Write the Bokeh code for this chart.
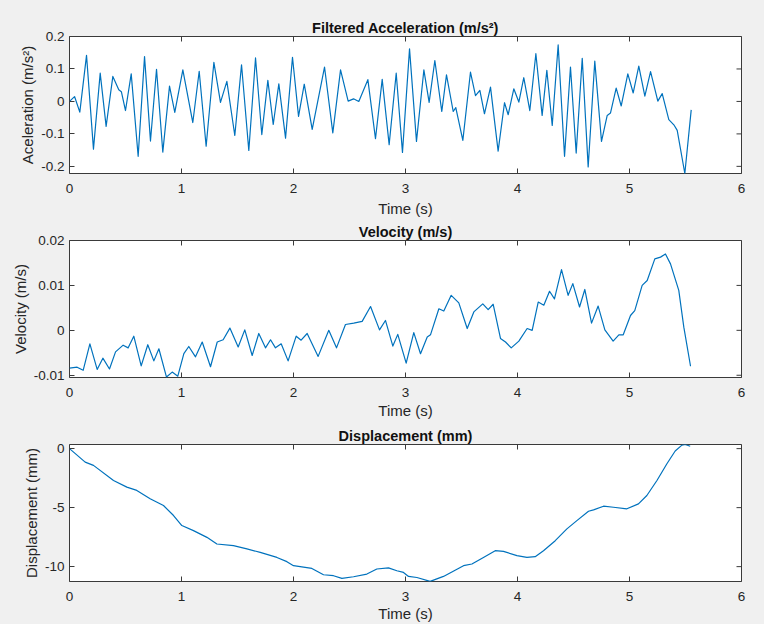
import math
from bokeh.plotting import figure
from bokeh.models import Range1d, FixedTicker
from bokeh.layouts import column
from bokeh.embed import file_html
from bokeh.resources import INLINE

# ---------------- data ----------------
acc_t = [0.0, 0.045, 0.092, 0.152, 0.214, 0.274, 0.327, 0.387, 0.44, 0.463, 0.5, 0.551, 0.613, 0.67,
         0.723, 0.777, 0.833, 0.893, 0.94, 1.012, 1.101, 1.158, 1.22, 1.289, 1.348, 1.405, 1.476, 1.536,
         1.601, 1.661, 1.717, 1.771, 1.819, 1.869, 1.929, 1.991, 2.045, 2.096, 2.167, 2.277, 2.351, 2.42,
         2.488, 2.536, 2.583, 2.664, 2.732, 2.792, 2.854, 2.917, 2.973, 3.036, 3.098, 3.164, 3.211, 3.262,
         3.324, 3.366, 3.426, 3.449, 3.512, 3.58, 3.625, 3.664, 3.705, 3.759, 3.827, 3.884, 3.917, 3.967,
         4.012, 4.056, 4.11, 4.164, 4.22, 4.262, 4.31, 4.363, 4.42, 4.473, 4.524, 4.578, 4.631, 4.69,
         4.75, 4.801, 4.83, 4.881, 4.926, 4.985, 5.033, 5.083, 5.137, 5.188, 5.253, 5.292, 5.351, 5.396,
         5.426, 5.494, 5.551]
acc = [0.0, 0.015, -0.033, 0.142, -0.147, 0.087, -0.077, 0.077, 0.036, 0.03, -0.028, 0.085, -0.169, 0.138,
       -0.122, 0.099, -0.156, 0.047, -0.034, 0.097, -0.065, 0.093, -0.138, 0.12, -0.003, 0.062, -0.105, 0.113,
       -0.151, 0.134, -0.102, 0.065, -0.071, 0.054, -0.113, 0.136, -0.046, 0.053, -0.086, 0.106, -0.097, 0.097,
       0.001, 0.008, 0.0, 0.067, -0.115, 0.068, -0.133, 0.087, -0.157, 0.162, -0.123, 0.097, -0.003, 0.126,
       -0.031, 0.082, -0.031, -0.019, -0.12, 0.09, 0.018, 0.034, -0.038, 0.044, -0.153, -0.004, -0.041, 0.039,
       -0.002, 0.073, -0.028, 0.147, -0.043, 0.096, -0.074, 0.174, -0.169, 0.106, -0.159, 0.133, -0.202, 0.124,
       -0.123, -0.043, -0.036, 0.041, -0.014, 0.085, 0.026, 0.109, 0.016, 0.092, 0.001, 0.024, -0.056, -0.072,
       -0.089, -0.222, -0.026]

vel_t = [0.0, 0.068, 0.122, 0.182, 0.247, 0.298, 0.357, 0.411, 0.479, 0.524, 0.574, 0.64, 0.699, 0.753,
         0.798, 0.866, 0.917, 0.967, 1.021, 1.065, 1.125, 1.185, 1.259, 1.319, 1.372, 1.432, 1.506, 1.565,
         1.631, 1.69, 1.75, 1.795, 1.839, 1.89, 1.952, 2.024, 2.068, 2.122, 2.22, 2.315, 2.384, 2.464,
         2.538, 2.613, 2.688, 2.768, 2.821, 2.887, 2.931, 3.006, 3.074, 3.134, 3.194, 3.223, 3.298, 3.342,
         3.408, 3.476, 3.551, 3.61, 3.69, 3.738, 3.783, 3.848, 3.893, 3.944, 4.012, 4.086, 4.131, 4.185,
         4.235, 4.286, 4.33, 4.393, 4.452, 4.494, 4.554, 4.601, 4.661, 4.72, 4.78, 4.854, 4.905, 4.944,
         5.009, 5.047, 5.113, 5.158, 5.226, 5.277, 5.321, 5.366, 5.44, 5.485, 5.545]
vel = [-0.0084, -0.0082, -0.0089, -0.003, -0.0087, -0.0062, -0.0086, -0.0048, -0.0033, -0.0039, -0.0013,
       -0.0079, -0.0032, -0.0068, -0.0041, -0.0104, -0.0093, -0.0102, -0.0052, -0.0036, -0.0059, -0.0026,
       -0.0081, -0.0026, -0.0021, 0.0005, -0.0037, 0.0001, -0.0056, -0.0007, -0.0039, -0.0021, -0.0039,
       -0.003, -0.0068, -0.0013, -0.0022, -0.0007, -0.0058, 0.0, -0.0039, 0.0013, 0.0016, 0.002, 0.0053,
       0.0001, 0.0022, -0.0035, -0.0009, -0.0073, -0.0005, -0.0052, -0.0015, -0.001, 0.0048, 0.0043, 0.0078,
       0.0061, 0.0004, 0.0041, 0.0059, 0.0046, 0.0058, -0.0018, -0.0026, -0.0039, -0.0024, 0.0004, 0.0,
       0.0063, 0.0056, 0.0087, 0.007, 0.0135, 0.0078, 0.0104, 0.0052, 0.0091, 0.0016, 0.0054, 0.0001,
       -0.0024, -0.001, -0.001, 0.0033, 0.0044, 0.01, 0.0111, 0.0159, 0.0163, 0.017, 0.0148, 0.0089,
       0.0007, -0.008]

disp_t = [0.0, 0.14, 0.214, 0.393, 0.512, 0.601, 0.72, 0.839, 0.929, 1.003, 1.107, 1.227, 1.316, 1.464,
          1.584, 1.703, 1.852, 1.941, 2.0, 2.164, 2.268, 2.357, 2.432, 2.536, 2.655, 2.744, 2.848, 2.923,
          2.982, 3.027, 3.102, 3.22, 3.339, 3.518, 3.593, 3.696, 3.801, 3.875, 3.995, 4.084, 4.158, 4.232,
          4.337, 4.441, 4.53, 4.634, 4.679, 4.768, 4.857, 4.977, 5.08, 5.155, 5.245, 5.334, 5.408, 5.468,
          5.497, 5.542]
disp = [0.0, -1.14, -1.42, -2.7, -3.26, -3.54, -4.25, -4.82, -5.67, -6.52, -6.95, -7.52, -8.08, -8.22,
        -8.5, -8.79, -9.22, -9.58, -9.92, -10.15, -10.69, -10.77, -11.0, -10.86, -10.63, -10.2, -10.1, -10.35,
        -10.49, -10.83, -10.92, -11.25, -10.83, -9.92, -9.78, -9.22, -8.65, -8.71, -9.07, -9.22, -9.16, -8.65,
        -7.8, -6.8, -6.1, -5.31, -5.19, -4.88, -4.97, -5.1, -4.68, -3.97, -2.7, -1.28, -0.2, 0.3,
        0.35, 0.2]

x_ticks = [0, 1, 2, 3, 4, 5, 6]
acc_ticks = [-0.2, -0.1, 0, 0.1, 0.2]
acc_labels = ["-0.2", "-0.1", "0", "0.1", "0.2"]
vel_ticks = [-0.01, 0, 0.01, 0.02]
vel_labels = ["-0.01", "0", "0.01", "0.02"]
disp_ticks = [-10, -5, 0]
disp_labels = ["-10", "-5", "0"]

FONT = "Liberation Sans"
TXT = "#262626"
AX = "#3a3a3a"
LINE = "#0072BD"
BG = "#f0f0f0"
X_MAX = 6


def make(title, ylabel, t, y, yr, yt, ylab, height, top, bottom, xlab_standoff):
    p = figure(width=764, height=height, output_backend="svg", toolbar_location=None,
               x_range=Range1d(0, X_MAX), y_range=Range1d(*yr),
               min_border_left=69, min_border_right=23, min_border_top=top, min_border_bottom=bottom,
               background_fill_color="white", border_fill_color=BG,
               outline_line_color=AX, outline_line_width=1)
    p.title.text = title
    p.title.align = "center"
    p.title.text_font = FONT
    p.title.text_font_size = "14.5px"
    p.title.text_font_style = "bold"
    p.title.text_color = "#111111"
    p.title.standoff = 2
    p.title.offset = 0
    p.grid.visible = False

    p.line(t, y, line_color=LINE, line_width=1.2, line_join="round")

    xa = p.xaxis[0]
    xa.ticker = FixedTicker(ticks=x_ticks)
    xa.axis_label = "Time (s)"
    ya = p.yaxis[0]
    ya.ticker = FixedTicker(ticks=yt)
    ya.major_label_overrides = {float(v): s for v, s in zip(yt, ylab)}
    ya.axis_label = ylabel
    for ax in (xa, ya):
        ax.axis_line_color = None
        ax.major_tick_in = 5
        ax.major_tick_out = 0
        ax.major_tick_line_color = AX
        ax.minor_tick_line_color = None
        ax.major_label_text_font = FONT
        ax.major_label_text_font_size = "13.5px"
        ax.major_label_text_color = TXT
        ax.axis_label_text_font = FONT
        ax.axis_label_text_font_size = "15px"
        ax.axis_label_text_font_style = "normal"
        ax.axis_label_text_color = TXT
    xa.major_label_standoff = 10
    xa.axis_label_standoff = xlab_standoff
    ya.major_label_standoff = 5
    ya.axis_label_standoff = 2

    # MATLAB-style box ticks on the top and right edges (clipped to the frame -> inward half)
    p.scatter(x_ticks, [yr[1]] * len(x_ticks), marker="dash", size=10, angle=math.pi / 2,
              line_color=AX, line_width=1)
    p.scatter([X_MAX] * len(yt), yt, marker="dash", size=10, line_color=AX, line_width=1)
    return p


p1 = make("Filtered Acceleration (m/s\u00b2)", "Aceleration (m/s\u00b2)", acc_t, acc,
          (-0.222, 0.2), acc_ticks, acc_labels, 219, 36, 46, 4)
p2 = make("Velocity (m/s)", "Velocity (m/s)", vel_t, vel,
          (-0.0105, 0.02), vel_ticks, vel_labels, 202, 21, 44, 2)
p3 = make("Displacement (mm)", "Displacement (mm)", disp_t, disp,
          (-11.26, 0.35), disp_ticks, disp_labels, 203, 23, 43, 1)

layout = column(p1, p2, p3, spacing=0)

html = file_html(layout, INLINE)
html = html.replace("<head>", "<head><style>html,body{background:#f0f0f0;}</style>", 1)
open("out.html", "w").write(html)
